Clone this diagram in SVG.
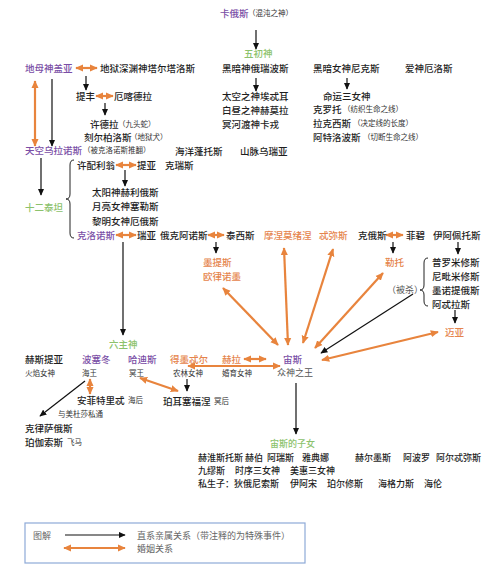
<svg xmlns="http://www.w3.org/2000/svg" width="500" height="574" viewBox="0 0 500 574">
<style>
text{font-family:"Noto Sans CJK SC","Noto Sans",sans-serif;font-size:9.5px;font-weight:500;fill:#1e1e1e}
.p{fill:#7a4ea6}
.g{fill:#8cc26c}
.o{fill:#e5844c}
.s{font-size:7.5px;font-weight:normal;fill:#333}
.m{font-size:9px;font-weight:normal;fill:#555}
.c{font-size:9px}
.l{font-size:9px;font-weight:normal;fill:#666}
.bk{stroke:#111;stroke-width:1.2;fill:none;marker-end:url(#ab)}
.or{stroke:#e8843d;stroke-width:2.2;fill:none;marker-start:url(#ao);marker-end:url(#ao)}
.br{stroke:#222;stroke-width:1;fill:none}
</style>
<defs>
<marker id="ab" viewBox="0 0 10 10" refX="9" refY="5" markerWidth="7" markerHeight="7" orient="auto-start-reverse" markerUnits="userSpaceOnUse"><path d="M0,0.5 L10,5 L0,9.5 Z" fill="#111"/></marker>
<marker id="ao" viewBox="0 0 10 10" refX="9" refY="5" markerWidth="8" markerHeight="8" orient="auto-start-reverse" markerUnits="userSpaceOnUse"><path d="M0,0.5 L10,5 L0,9.5 Z" fill="#e8843d"/></marker>
</defs>
<rect width="500" height="574" fill="#fff"/>

<g id="connectors">
<path class="bk" d="M256,30 V49"/>
<path class="bk" d="M256,78 V91"/>
<path class="bk" d="M347,78 V89"/>
<path class="bk" d="M86,76 V90"/>
<path class="bk" d="M105,103 V115"/>
<path class="bk" d="M52,79 V146"/>
<path class="bk" d="M41,158 V195"/>
<path class="bk" d="M125,170 V186"/>
<path class="bk" d="M216,242 V253"/>
<path class="bk" d="M393,242 V253"/>
<path class="bk" d="M458,242 V254"/>
<path class="bk" d="M455,310 V323"/>
<path class="bk" d="M123,242 V335"/>
<path class="bk" d="M85,381 L40,416"/>
<path class="bk" d="M187,379 V391"/>
<path class="bk" d="M296,383 V434"/>
<path class="bk" d="M413,294 L321,353"/>
<path class="or" d="M76,68 H97"/>
<path class="or" d="M35,81 V146"/>
<path class="or" d="M96,96 H113"/>
<path class="or" d="M116,165 H136"/>
<path class="or" d="M116,235 H136"/>
<path class="or" d="M208,235 H224"/>
<path class="or" d="M386,235 H403"/>
<path class="or" d="M244,359 H266"/>
<path class="or" d="M188,366 H280"/>
<path class="or" d="M140,378 L178,391"/>
<path class="or" d="M90,379 V394"/>
<path class="or" d="M223,288 L278,345"/>
<path class="or" d="M284,248 L288,345"/>
<path class="or" d="M333,249 L303,343"/>
<path class="or" d="M383,273 L315,348"/>
<path class="or" d="M322,360 L438,332"/>
<path class="br" d="M74,160 Q70,160 70,165 L70,194 Q70,199 66,199 Q70,199 70,204 L70,233 Q70,238 74,238"/>
<path class="br" d="M428,258 Q424,258 424,263 L424,285 Q424,290 420,290 Q424,290 424,295 L424,301 Q424,306 428,306"/>
</g>

<g id="chaos"><text class="p" x="220" y="17">卡俄斯</text><text class="s" x="248" y="16">（混沌之神）</text></g>
<g id="wuchushen"><text class="g" x="244" y="57">五初神</text></g>
<g id="gaia"><text class="p" x="25" y="72">地母神盖亚</text></g>
<g id="tartarus"><text x="100" y="72">地狱深渊神塔尔塔洛斯</text></g>
<g id="erebus"><text x="222" y="72">黑暗神俄瑞波斯</text></g>
<g id="nyx"><text x="313" y="72">黑暗女神尼克斯</text></g>
<g id="eros"><text x="405" y="72">爱神厄洛斯</text></g>
<g id="typhon"><text x="76" y="100">提丰</text></g>
<g id="echidna"><text x="114" y="100">厄喀德拉</text></g>
<g id="hydra"><text x="90" y="128">许德拉</text><text class="s" x="118" y="127">（九头蛇）</text></g>
<g id="cerberus"><text x="84" y="141">刻尔柏洛斯</text><text class="s" x="130" y="140">（地狱犬）</text></g>
<g id="aether"><text x="222" y="100">太空之神埃忒耳</text></g>
<g id="hemera"><text x="222" y="114">白昼之神赫莫拉</text></g>
<g id="charon"><text x="222" y="128">冥河渡神卡戎</text></g>
<g id="moirai"><text x="323" y="100">命运三女神</text></g>
<g id="clotho"><text x="313" y="113">克罗托</text><text class="s" x="343" y="112">（纺织生命之线）</text></g>
<g id="lachesis"><text x="313" y="127">拉克西斯</text><text class="s" x="353" y="126">（决定线的长度）</text></g>
<g id="atropos"><text x="313" y="141">阿特洛波斯</text><text class="s" x="363" y="140">（切断生命之线）</text></g>
<g id="uranus"><text class="p" x="25" y="154">天空乌拉诺斯</text><text class="s" x="83" y="153">（被克洛诺斯推翻）</text></g>
<g id="pontus"><text x="175" y="155">海洋蓬托斯</text></g>
<g id="ourea"><text x="240" y="155">山脉乌瑞亚</text></g>
<g id="titans"><text class="g" x="25" y="211">十二泰坦</text></g>
<g id="hyperion"><text x="77" y="169">许配利翁</text></g>
<g id="theia"><text x="137" y="169">提亚</text></g>
<g id="crius"><text x="165" y="169">克瑞斯</text></g>
<g id="helios"><text x="92" y="196">太阳神赫利俄斯</text></g>
<g id="selene"><text x="92" y="210">月亮女神塞勒斯</text></g>
<g id="eos"><text x="92" y="225">黎明女神厄俄斯</text></g>
<g id="cronus"><text class="p" x="77" y="239">克洛诺斯</text></g>
<g id="rhea"><text x="137" y="239">瑞亚</text></g>
<g id="oceanus"><text x="160" y="239">俄克阿诺斯</text></g>
<g id="tethys"><text x="226" y="239">泰西斯</text></g>
<g id="mnemosyne"><text class="o" x="264" y="239">摩涅莫绪涅</text></g>
<g id="themis"><text class="o" x="319" y="239">忒弥斯</text></g>
<g id="coeus"><text x="358" y="239">克俄斯</text></g>
<g id="phoebe"><text x="406" y="239">菲碧</text></g>
<g id="iapetus"><text x="433" y="239">伊阿佩托斯</text></g>
<g id="metis"><text class="o" x="203" y="266">墨提斯</text><text class="o" x="203" y="280">欧律诺墨</text></g>
<g id="leto"><text class="o" x="385" y="266">勒托</text></g>
<g id="prometheus"><text x="432" y="266">普罗米修斯</text></g>
<g id="epimetheus"><text x="432" y="280">尼毗米修斯</text></g>
<g id="menoetius"><text x="432" y="294">墨诺提俄斯</text></g>
<g id="atlas"><text x="432" y="308">阿忒拉斯</text></g>
<g id="killed"><text class="m" x="387" y="293">（被杀）</text></g>
<g id="maia"><text class="o" x="445" y="336">迈亚</text></g>
<g id="sixgods"><text class="g" x="109" y="348">六主神</text></g>
<g id="hestia"><text x="25" y="363">赫斯提亚</text><text class="s" x="25" y="376">火焰女神</text></g>
<g id="poseidon"><text class="p" x="82" y="363">波塞冬</text><text class="s" x="82" y="376">海王</text></g>
<g id="hades"><text class="p" x="128" y="363">哈迪斯</text><text class="s" x="129" y="376">冥王</text></g>
<g id="demeter"><text class="o" x="170" y="363">得墨忒尔</text><text class="s" x="173" y="376">农林女神</text></g>
<g id="hera"><text class="o" x="222" y="363">赫拉</text><text class="s" x="222" y="376">婚育女神</text></g>
<g id="zeus"><text class="p" x="283" y="363">宙斯</text><text class="m" x="277" y="376">众神之王</text></g>
<g id="amphitrite"><text x="77" y="404">安菲特里忒</text><text class="s" x="128" y="403">海后</text></g>
<g id="medusa"><text class="s" x="58" y="417">与美杜莎私通</text></g>
<g id="persephone"><text x="163" y="405">珀耳塞福涅</text><text class="s" x="214" y="404">冥后</text></g>
<g id="chrysaor"><text x="25" y="432">克律萨俄斯</text></g>
<g id="pegasus"><text x="25" y="446">珀伽索斯</text><text class="s" x="67" y="445">飞马</text></g>
<g id="zeuschildren"><text class="g c" x="270" y="447">宙斯的子女</text></g>
<g id="children1"><text class="c" x="198" y="461">赫淮斯托斯</text><text class="c" x="245" y="461">赫伯</text><text class="c" x="267" y="461">阿瑞斯</text><text class="c" x="302" y="461">雅典娜</text><text class="c" x="355" y="461">赫尔墨斯</text><text class="c" x="403" y="461">阿波罗</text><text class="c" x="436" y="461">阿尔忒弥斯</text></g>
<g id="children2"><text class="c" x="198" y="474">九缪斯</text><text class="c" x="235" y="474">时序三女神</text><text class="c" x="290" y="474">美惠三女神</text></g>
<g id="children3"><text class="c" x="198" y="487">私生子：狄俄尼索斯</text><text class="c" x="290" y="487">伊阿宋</text><text class="c" x="327" y="487">珀尔修斯</text><text class="c" x="378" y="487">海格力斯</text><text class="c" x="424" y="487">海伦</text></g>

<g id="legend">
<rect x="25" y="523" width="280" height="40" fill="#fff" stroke="#8eaad8" stroke-width="1.2"/>
<text class="l" x="33" y="539">图解</text>
<path class="bk" d="M65,535 H125"/>
<path class="or" d="M64,548 H125"/>
<text class="l" x="137" y="539">直系亲属关系（带注释的为特殊事件）</text>
<text class="l" x="137" y="552">婚姻关系</text>
</g>
</svg>
